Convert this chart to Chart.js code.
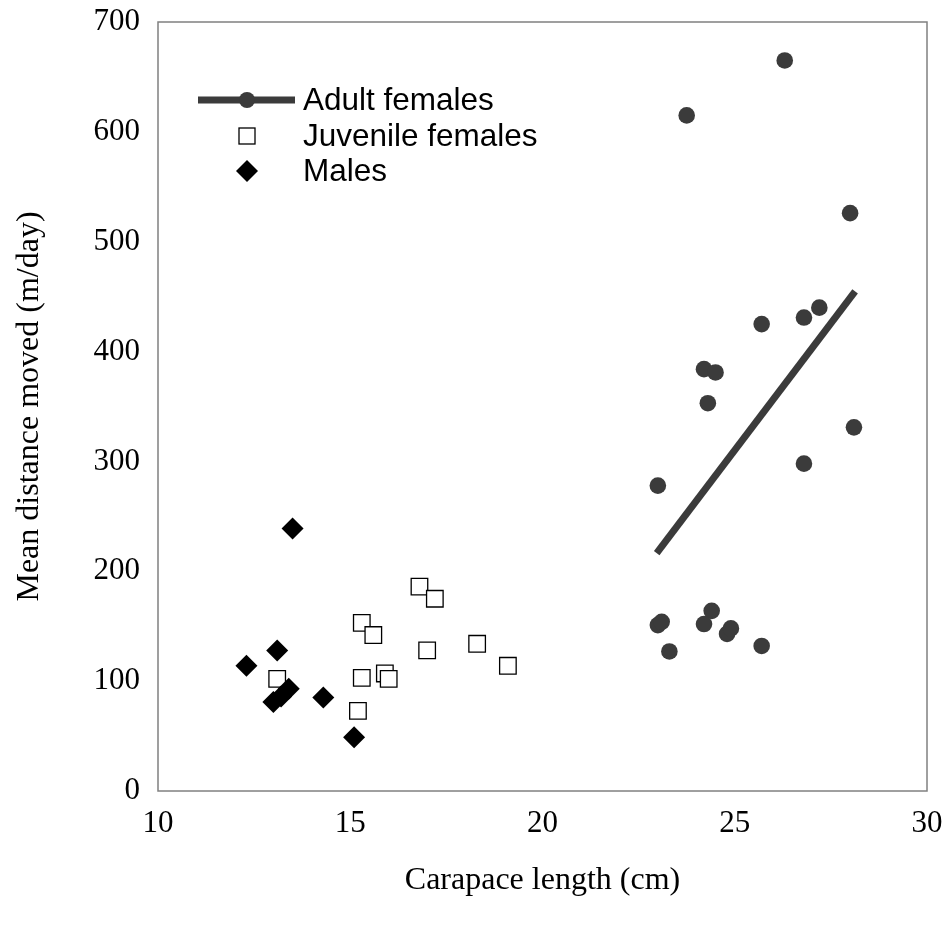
<!DOCTYPE html>
<html>
<head>
<meta charset="utf-8">
<script src="https://cdn.jsdelivr.net/npm/chart.js@4/dist/chart.umd.min.js"></script>
<style>
  html, body { margin: 0; padding: 0; background: #fff; }
  #wrap { width: 947px; height: 928px; }
</style>
</head>
<body>
<div id="wrap"><canvas id="chart" width="947" height="928"></canvas></div>
<script>
// carapace length (cm) / mean distance moved (m/day)
var adultX = [26.3, 23.75, 28.0, 25.7, 26.8, 27.2, 24.2, 24.5, 24.3, 28.1, 26.8, 23.0, 23.0, 23.1, 24.4, 24.2, 24.8, 24.9, 23.3, 25.7];
var adultY = [665, 615, 526, 425, 431, 440, 384, 381, 353, 331, 298, 278, 151, 154, 164, 152, 143, 148, 127, 132];

var juvX = [16.8, 17.2, 15.3, 15.6, 17.0, 18.3, 19.1, 13.1, 15.3, 15.9, 16.0, 15.2];
var juvY = [186, 175, 153, 142, 128, 134, 114, 102, 103, 107, 102, 73];

var maleX = [13.5, 13.1, 12.3, 13.0, 13.2, 13.4, 14.3, 15.1];
var maleY = [239, 128, 114, 81, 86, 93, 85, 49];

// adult female trend line end points
var trendX = [22.97, 28.13];
var trendY = [216.5, 454.7];

var xTicks = [10, 15, 20, 25, 30];
var yTicks = [0, 100, 200, 300, 400, 500, 600, 700];

var seriesNames = ["Adult females", "Juvenile females", "Males"];

function pairs(xs, ys) {
    var out = [];
    for (var i = 0; i < xs.length; i++) {
        out.push({ x: xs[i], y: ys[i] });
    }
    return out;
}

var dark = "#3b3b3b";
var serif = "'Liberation Serif', 'Times New Roman', serif";
var sans = "'Liberation Sans', Arial, sans-serif";

// box round the plot area
var frame = {
    id: "frame",
    afterDatasetsDraw: function (chart) {
        var a = chart.chartArea;
        var ctx = chart.ctx;
        ctx.save();
        ctx.strokeStyle = "#808080";
        ctx.lineWidth = 1.5;
        ctx.strokeRect(a.left, a.top, a.right - a.left, a.bottom - a.top);
        ctx.restore();
    }
};

// legend drawn inside the plot, top left
var innerLegend = {
    id: "innerLegend",
    afterDraw: function (chart) {
        var a = chart.chartArea;
        var ctx = chart.ctx;
        var symX = a.left + 89;
        var textX = a.left + 145;
        var rowY = [a.top + 78, a.top + 114, a.top + 149];
        ctx.save();

        // adult: line with dot
        ctx.strokeStyle = dark;
        ctx.lineWidth = 7;
        ctx.beginPath();
        ctx.moveTo(symX - 49, rowY[0]);
        ctx.lineTo(symX + 48, rowY[0]);
        ctx.stroke();
        ctx.fillStyle = dark;
        ctx.beginPath();
        ctx.arc(symX, rowY[0], 8, 0, Math.PI * 2);
        ctx.fill();

        // juvenile: open square
        ctx.fillStyle = "#fff";
        ctx.strokeStyle = "#000";
        ctx.lineWidth = 1.3;
        ctx.fillRect(symX - 8, rowY[1] - 8, 16, 16);
        ctx.strokeRect(symX - 8, rowY[1] - 8, 16, 16);

        // males: diamond
        ctx.fillStyle = "#000";
        ctx.beginPath();
        ctx.moveTo(symX, rowY[2] - 11);
        ctx.lineTo(symX + 11, rowY[2]);
        ctx.lineTo(symX, rowY[2] + 11);
        ctx.lineTo(symX - 11, rowY[2]);
        ctx.closePath();
        ctx.fill();

        ctx.fillStyle = "#000";
        ctx.font = "31.5px " + sans;
        ctx.textAlign = "left";
        ctx.textBaseline = "middle";
        for (var i = 0; i < seriesNames.length; i++) {
            ctx.fillText(seriesNames[i], textX, rowY[i] + 1);
        }
        ctx.restore();
    }
};

var ctx = document.getElementById("chart").getContext("2d");
var chart = new Chart(ctx, {
    type: "scatter",
    data: {
        datasets: [
            {
                label: seriesNames[2],
                data: pairs(maleX, maleY),
                pointStyle: "rectRot",
                pointRadius: 11,
                backgroundColor: "#000",
                borderColor: "#000",
                borderWidth: 0,
                order: 1
            },
            {
                label: seriesNames[0],
                data: pairs(adultX, adultY),
                pointStyle: "circle",
                pointRadius: 8.3,
                backgroundColor: dark,
                borderColor: dark,
                borderWidth: 0,
                order: 2
            },
            {
                type: "line",
                label: "trend",
                data: pairs(trendX, trendY),
                borderColor: dark,
                borderWidth: 7,
                borderCapStyle: "butt",
                pointRadius: 0,
                fill: false,
                order: 3
            },
            {
                label: seriesNames[1],
                data: pairs(juvX, juvY),
                pointStyle: "rect",
                pointRadius: 11.7,
                backgroundColor: "#fff",
                borderColor: "#000",
                borderWidth: 1.3,
                order: 4
            }
        ]
    },
    options: {
        responsive: false,
        animation: false,
        layout: {
            padding: { top: 22, right: 20, left: 0, bottom: 0 }
        },
        plugins: {
            legend: { display: false },
            tooltip: { enabled: false }
        },
        scales: {
            x: {
                type: "linear",
                min: 10,
                max: 30,
                afterFit: function (scale) {
                    scale.height = 137;
                    scale.paddingLeft = 0;
                    scale.paddingRight = 0;
                },
                afterBuildTicks: function (scale) {
                    scale.ticks = xTicks.map(function (v) { return { value: v }; });
                },
                grid: { display: false, drawTicks: false },
                border: { display: false },
                ticks: {
                    color: "#000",
                    padding: 14,
                    maxRotation: 0,
                    font: { family: serif, size: 31 }
                },
                title: {
                    display: true,
                    text: "Carapace length (cm)",
                    color: "#000",
                    padding: { top: 0, bottom: 28 },
                    font: { family: serif, size: 32 }
                }
            },
            y: {
                type: "linear",
                min: 0,
                max: 700,
                afterFit: function (scale) {
                    scale.width = 158;
                    scale.paddingTop = 0;
                    scale.paddingBottom = 0;
                },
                afterBuildTicks: function (scale) {
                    scale.ticks = yTicks.map(function (v) { return { value: v }; });
                },
                grid: { display: false, drawTicks: false },
                border: { display: false },
                ticks: {
                    color: "#000",
                    padding: 18,
                    font: { family: serif, size: 31 }
                },
                title: {
                    display: true,
                    text: "Mean distance moved (m/day)",
                    color: "#000",
                    padding: { top: 10, bottom: 0 },
                    font: { family: serif, size: 32 }
                }
            }
        }
    },
    plugins: [frame, innerLegend]
});
</script>
</body>
</html>
